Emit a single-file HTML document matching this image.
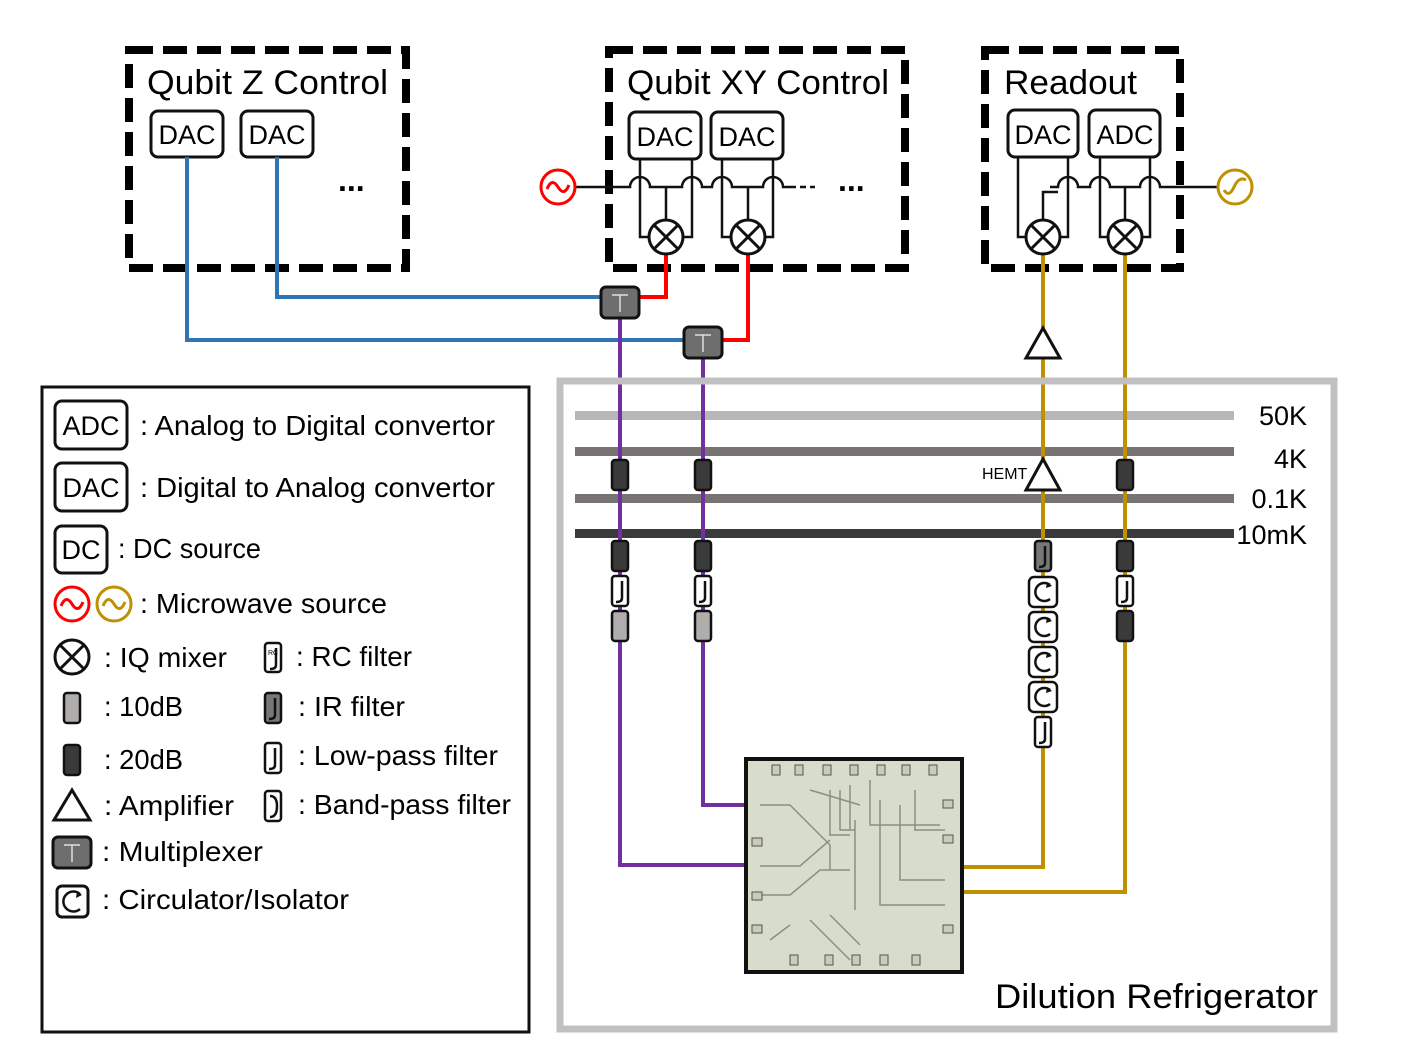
<!DOCTYPE html>
<html><head><meta charset="utf-8"><style>
html,body{margin:0;padding:0;background:#fff;}
svg text{font-family:"Liberation Sans",sans-serif;}
</style></head><body>
<svg width="1412" height="1059" viewBox="0 0 1412 1059" xmlns="http://www.w3.org/2000/svg">
<defs>
<g id="mux"><rect x="0" y="0" width="38" height="31" rx="5" fill="#6e6e6e" stroke="#111" stroke-width="3"/><path d="M11 8H27M19 8V25" stroke="#ddd" stroke-width="1.5" fill="none"/></g>
<g id="a20"><rect x="-8" y="0" width="16" height="30" rx="3" fill="#3a3a3a" stroke="#111" stroke-width="2.5"/></g>
<g id="a10"><rect x="-8" y="0" width="16" height="30" rx="3" fill="#b0adad" stroke="#111" stroke-width="2.5"/></g>
<g id="lpf"><rect x="-8" y="0" width="16" height="30" rx="3" fill="#fff" stroke="#111" stroke-width="2.5"/><path d="M2 5V22Q2 26 -4 26" stroke="#111" stroke-width="2.5" fill="none"/></g>
<g id="irf"><rect x="-8" y="0" width="16" height="30" rx="3" fill="#777" stroke="#111" stroke-width="2.5"/><path d="M2 5V22Q2 26 -4 26" stroke="#111" stroke-width="2.5" fill="none"/></g>
<g id="circ"><rect x="-14" y="0" width="28" height="30" rx="5" fill="#fff" stroke="#111" stroke-width="2.5"/><path d="M7 8A9 9 0 1 0 7 22" stroke="#111" stroke-width="2.5" fill="none"/><path d="M4 5L9 9L3 11Z" fill="#111"/></g>
<g id="mix"><circle r="17" fill="#fff" stroke="#111" stroke-width="3"/><path d="M-12 -12L12 12M12 -12L-12 12" stroke="#111" stroke-width="3"/></g>
</defs>

<g fill="none" stroke="#000" stroke-width="8" stroke-dasharray="24 10">
<rect x="129" y="50" width="277" height="218"/>
<rect x="609" y="50" width="296" height="218"/>
<rect x="985" y="50" width="195" height="218"/>
</g>
<g font-size="34" lengthAdjust="spacingAndGlyphs">
<text x="147" y="94" textLength="241" lengthAdjust="spacingAndGlyphs">Qubit Z Control</text>
<text x="627" y="94" textLength="262" lengthAdjust="spacingAndGlyphs">Qubit XY Control</text>
<text x="1004" y="94" textLength="133" lengthAdjust="spacingAndGlyphs">Readout</text>
</g>

<g fill="#fff" stroke="#111" stroke-width="3">
<rect x="151" y="111" width="72" height="46" rx="7"/>
<rect x="241" y="111" width="72" height="46" rx="7"/>
<rect x="629" y="112" width="72" height="47" rx="7"/>
<rect x="711" y="112" width="72" height="47" rx="7"/>
<rect x="1008" y="110" width="70" height="47" rx="7"/>
<rect x="1089" y="110" width="71" height="47" rx="7"/>
</g>
<g font-size="27" text-anchor="middle">
<text x="187" y="144">DAC</text><text x="277" y="144">DAC</text>
<text x="665" y="146">DAC</text><text x="747" y="146">DAC</text>
<text x="1043" y="144">DAC</text><text x="1125" y="144">ADC</text>
</g>
<g font-size="32" font-weight="bold"><text x="338" y="191">...</text><text x="838" y="191">...</text></g>

<g fill="none" stroke-width="4">
<path d="M187 157V340H686" stroke="#2e75b6"/>
<path d="M277 157V297H602" stroke="#2e75b6"/>
<path d="M666 254V297H639" stroke="#ff0000"/>
<path d="M748 254V340H721" stroke="#ff0000"/>
<path d="M620 318V865H752" stroke="#7030a0"/>
<path d="M703 357V805H752" stroke="#7030a0"/>
<path d="M1043 254V867H955" stroke="#bf9000"/>
<path d="M1125 254V892H955" stroke="#bf9000"/>
</g>

<g fill="none" stroke="#111" stroke-width="2.5">
<path d="M575 187H630A10 10 0 0 1 650 187H682A10 10 0 0 1 702 187H712A10 10 0 0 1 732 187H763A10 10 0 0 1 783 187H790"/>
<path d="M790 187H815" stroke-dasharray="6 4"/>
<path d="M640 159V237H650M692 159V237H683M666 187V220"/>
<path d="M722 159V237H731M773 159V237H765M748 187V220"/>
<path d="M1018 157V237H1026M1068 157V237H1060M1050 187H1058A10 10 0 0 1 1078 187H1090A10 10 0 0 1 1110 187H1140A10 10 0 0 1 1160 187H1218"/>
<path d="M1043 220V192H1058"/>
<path d="M1100 157V237H1108M1150 157V237H1142M1125 187V220"/>
</g>
<use href="#mix" x="666" y="237"/><use href="#mix" x="748" y="237"/>
<use href="#mix" x="1043" y="237"/><use href="#mix" x="1125" y="237"/>
<circle cx="558" cy="187" r="17" fill="#fff" stroke="#ff0000" stroke-width="3"/>
<path d="M547 189Q552 177 558 187T569 185" stroke="#ff0000" stroke-width="3" fill="none"/>
<circle cx="1235" cy="187" r="17" fill="#fff" stroke="#bf9000" stroke-width="3"/>
<path d="M1224 190Q1229 198 1234 187T1246 180" stroke="#bf9000" stroke-width="3" fill="none"/>

<use href="#mux" x="601" y="287"/><use href="#mux" x="684" y="327"/>
<path d="M1043 328L1060 358H1026Z" fill="#fff" stroke="#111" stroke-width="3"/>

<rect x="560" y="381" width="774" height="648" fill="none" stroke="#c0c0c0" stroke-width="7"/>
<rect x="575" y="411" width="659" height="9" fill="#b8b6b6"/>
<rect x="575" y="447" width="659" height="9" fill="#777373"/>
<rect x="575" y="494" width="659" height="9" fill="#777373"/>
<rect x="575" y="529" width="659" height="9" fill="#3a3a3a"/>
<g font-size="27" text-anchor="end">
<text x="1307" y="425">50K</text><text x="1307" y="468">4K</text>
<text x="1307" y="508">0.1K</text><text x="1307" y="544">10mK</text>
</g>
<text x="995" y="1008" font-size="34" textLength="323" lengthAdjust="spacingAndGlyphs">Dilution Refrigerator</text>
<g fill="none" stroke-width="4">
<path d="M620 400V560" stroke="#7030a0"/><path d="M703 400V560" stroke="#7030a0"/>
<path d="M1043 400V560" stroke="#bf9000"/><path d="M1125 400V560" stroke="#bf9000"/>
</g>
<use href="#a20" x="620" y="460"/><use href="#a20" x="703" y="460"/><use href="#a20" x="1125" y="460"/>
<path d="M1043 459L1060 490H1026Z" fill="#fff" stroke="#111" stroke-width="3"/>
<text x="982" y="479" font-size="16">HEMT</text>
<use href="#a20" x="620" y="541"/><use href="#lpf" x="620" y="576"/><use href="#a10" x="620" y="611"/>
<use href="#a20" x="703" y="541"/><use href="#lpf" x="703" y="576"/><use href="#a10" x="703" y="611"/>
<use href="#irf" x="1043" y="541"/><use href="#circ" x="1043" y="577"/><use href="#circ" x="1043" y="612"/>
<use href="#circ" x="1043" y="647"/><use href="#circ" x="1043" y="682"/><use href="#lpf" x="1043" y="717"/>
<use href="#a20" x="1125" y="541"/><use href="#lpf" x="1125" y="576"/><use href="#a20" x="1125" y="611"/>

<rect x="746" y="759" width="216" height="213" fill="#d8dccb" stroke="#111" stroke-width="4"/>
<g fill="none" stroke="#8a8f82" stroke-width="1.5">
<path d="M760 805H790L830 845V870H850M760 866H800L830 840M760 895H790L820 870H850M830 790V835H850M840 790V830H850M850 785V830H855M810 790L860 805M855 820V910M870 780V825H940M880 800V905H945M900 805V880H945M810 920L850 960M830 915L860 945M770 940L790 925M915 790V830H945"/>
</g>
<g fill="#c8ccbb" stroke="#555" stroke-width="1">
<rect x="772" y="765" width="8" height="10"/><rect x="795" y="765" width="8" height="10"/><rect x="823" y="765" width="8" height="10"/><rect x="850" y="765" width="8" height="10"/><rect x="877" y="765" width="8" height="10"/><rect x="902" y="765" width="8" height="10"/><rect x="929" y="765" width="8" height="10"/>
<rect x="790" y="955" width="8" height="10"/><rect x="825" y="955" width="8" height="10"/><rect x="852" y="955" width="8" height="10"/><rect x="880" y="955" width="8" height="10"/><rect x="912" y="955" width="8" height="10"/>
<rect x="943" y="800" width="10" height="8"/><rect x="943" y="835" width="10" height="8"/><rect x="943" y="925" width="10" height="8"/>
<rect x="752" y="838" width="10" height="8"/><rect x="752" y="892" width="10" height="8"/><rect x="752" y="925" width="10" height="8"/>
</g>

<rect x="42" y="387" width="487" height="645" fill="none" stroke="#111" stroke-width="3"/>
<g fill="#fff" stroke="#111" stroke-width="3">
<rect x="55" y="401" width="72" height="48" rx="7"/>
<rect x="55" y="463" width="72" height="48" rx="7"/>
<rect x="55" y="526" width="52" height="47" rx="7"/>
</g>
<g font-size="27">
<text x="91" y="435" text-anchor="middle">ADC</text>
<text x="91" y="497" text-anchor="middle">DAC</text>
<text x="81" y="559" text-anchor="middle">DC</text>
</g>
<g font-size="28">
<text x="140" y="435" textLength="355" lengthAdjust="spacingAndGlyphs">: Analog to Digital convertor</text>
<text x="140" y="497" textLength="355" lengthAdjust="spacingAndGlyphs">: Digital to Analog convertor</text>
<text x="118" y="558" textLength="143" lengthAdjust="spacingAndGlyphs">: DC source</text>
<text x="140" y="613" textLength="247" lengthAdjust="spacingAndGlyphs">: Microwave source</text>
<text x="104" y="667" textLength="123" lengthAdjust="spacingAndGlyphs">: IQ mixer</text>
<text x="296" y="666" textLength="116" lengthAdjust="spacingAndGlyphs">: RC filter</text>
<text x="104" y="716" textLength="79" lengthAdjust="spacingAndGlyphs">: 10dB</text>
<text x="298" y="716" textLength="107" lengthAdjust="spacingAndGlyphs">: IR filter</text>
<text x="104" y="769" textLength="79" lengthAdjust="spacingAndGlyphs">: 20dB</text>
<text x="298" y="765" textLength="200" lengthAdjust="spacingAndGlyphs">: Low-pass filter</text>
<text x="104" y="815" textLength="130" lengthAdjust="spacingAndGlyphs">: Amplifier</text>
<text x="298" y="814" textLength="213" lengthAdjust="spacingAndGlyphs">: Band-pass filter</text>
<text x="102" y="861" textLength="161" lengthAdjust="spacingAndGlyphs">: Multiplexer</text>
<text x="102" y="909" textLength="247" lengthAdjust="spacingAndGlyphs">: Circulator/Isolator</text>
</g>
<circle cx="72" cy="604" r="17" fill="#fff" stroke="#ff0000" stroke-width="3"/>
<path d="M61 606Q66 594 72 604T83 602" stroke="#ff0000" stroke-width="3" fill="none"/>
<circle cx="114" cy="604" r="17" fill="#fff" stroke="#bf9000" stroke-width="3"/>
<path d="M103 606Q108 594 114 604T125 602" stroke="#bf9000" stroke-width="3" fill="none"/>
<use href="#mix" x="72" y="657"/>
<g transform="translate(273,643)"><rect x="-8" y="0" width="16" height="29" rx="3" fill="#fff" stroke="#111" stroke-width="2.5"/><path d="M3 5V22Q3 26 -3 26" stroke="#111" stroke-width="2.5" fill="none"/><text x="-5" y="12" font-size="7">RC</text></g>
<use href="#a10" x="72" y="693"/>
<use href="#irf" x="273" y="693"/>
<use href="#a20" x="72" y="745"/>
<use href="#lpf" x="273" y="743"/>
<g transform="translate(273,791)"><rect x="-8" y="0" width="16" height="30" rx="3" fill="#fff" stroke="#111" stroke-width="2.5"/><path d="M-3 5Q4 5 4 15Q4 26 -3 26" stroke="#111" stroke-width="2.5" fill="none"/></g>
<path d="M72 790L90 820H54Z" fill="#fff" stroke="#111" stroke-width="3"/>
<use href="#mux" x="53" y="837"/>
<g transform="translate(72,886)"><rect x="-15" y="0" width="31" height="31" rx="5" fill="#fff" stroke="#111" stroke-width="3"/><path d="M8 8A10 10 0 1 0 8 23" stroke="#111" stroke-width="2.5" fill="none"/><path d="M5 5L10 9L4 12Z" fill="#111"/></g>
</svg>
</body></html>
